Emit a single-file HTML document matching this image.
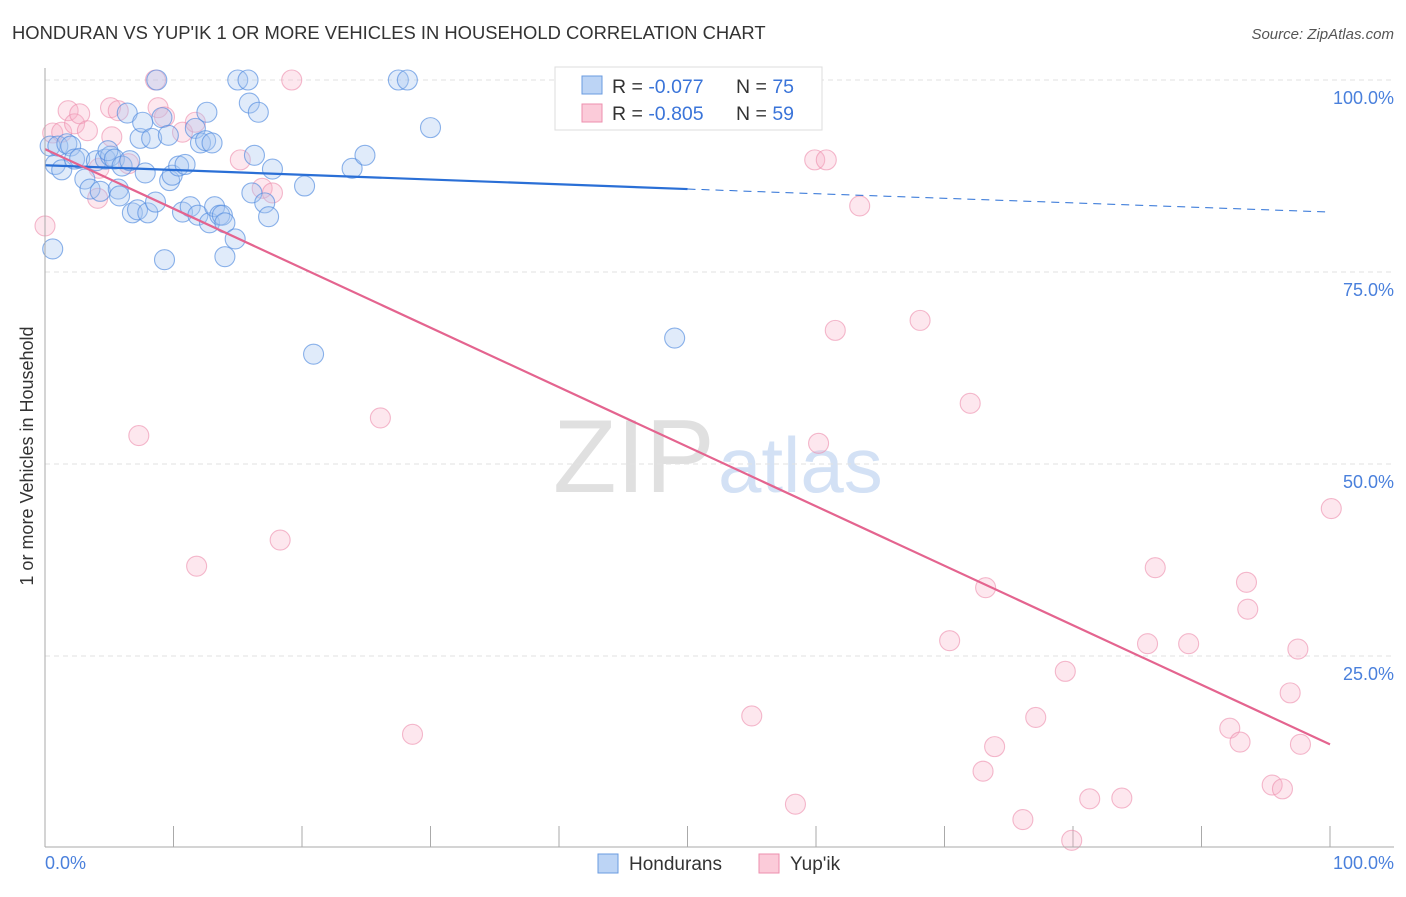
<!DOCTYPE html>
<html><head><meta charset="utf-8"><style>
body{margin:0;background:#fff;font-family:"Liberation Sans",sans-serif;}
svg text{font-family:"Liberation Sans",sans-serif;}
</style></head><body>
<svg width="1406" height="892">
<text x="12" y="39" font-size="18.4" fill="#333">HONDURAN VS YUP'IK 1 OR MORE VEHICLES IN HOUSEHOLD CORRELATION CHART</text>
<text x="1394" y="39" font-size="15" fill="#555" text-anchor="end" font-style="italic">Source: ZipAtlas.com</text>
<text x="33" y="456" font-size="18" fill="#333" text-anchor="middle" transform="rotate(-90 33 456)">1 or more Vehicles in Household</text>
<text x="553" y="492" font-size="104" fill="#e0e0e0" font-family="Liberation Serif">ZIP</text>
<text x="718" y="492" font-size="78" fill="#d3e1f5">atlas</text>
<g id="grid"></g><g id="pts"></g><g id="lines"></g>
<line x1="45" y1="68" x2="45" y2="847" stroke="#aaa"/>
<line x1="45" y1="847" x2="1394" y2="847" stroke="#aaa"/>
<text x="45" y="869" font-size="18" fill="#4a80dc">0.0%</text>
<text x="1394" y="869" font-size="18" fill="#4a80dc" text-anchor="end">100.0%</text>
<g>
<rect x="555" y="67" width="267" height="63" fill="#fff" stroke="#ddd"/>
<rect x="582" y="76" width="20" height="18" fill="#bcd4f5" stroke="#6a9be0"/>
<rect x="582" y="104" width="20" height="18" fill="#fbcbd9" stroke="#ee8fae"/>
<text x="612" y="93" font-size="19.5" fill="#333">R = <tspan fill="#3a74d9">-0.077</tspan></text>
<text x="736" y="93" font-size="19.5" fill="#333">N = <tspan fill="#3a74d9">75</tspan></text>
<text x="612" y="120" font-size="19.5" fill="#333">R = <tspan fill="#3a74d9">-0.805</tspan></text>
<text x="736" y="120" font-size="19.5" fill="#333">N = <tspan fill="#3a74d9">59</tspan></text>
</g>
<g><rect x="598" y="854" width="20" height="19" fill="#bcd4f5" stroke="#6a9be0"/><text x="629" y="870" font-size="19" fill="#333">Hondurans</text></g>
<g><rect x="759" y="854" width="20" height="19" fill="#fbcbd9" stroke="#ee8fae"/><text x="790" y="870" font-size="19" fill="#333">Yup'ik</text></g>
</svg>
<script>
const NS="http://www.w3.org/2000/svg";
const yTicks=[100,75,50,25];
const yTickLabels=["100.0%","75.0%","50.0%","25.0%"];
const xMinorTicks=[10,20,30,40,50,60,70,80,90,100];
const blueX=[0.6,0.8,0.4,1.3,1,1.7,2,2.3,2.7,3.1,3.5,4,4.3,4.7,5.1,4.9,5.4,5.7,5.8,6,6.4,6.6,6.8,7.2,7.4,7.6,7.8,8,8.3,8.6,8.7,9.1,9.3,9.6,9.7,9.9,10.4,10.7,10.9,11.3,11.7,11.9,12.1,12.5,12.6,12.8,13,13.2,13.6,13.8,14,14,14.8,15,15.8,15.9,16.1,16.3,16.6,17.1,17.4,17.7,20.2,20.9,23.9,24.9,27.5,28.2,30,49,40.5];
const blueY=[78,89,91.4,88.3,91.4,91.7,91.4,89.7,89.8,87.1,85.8,89.5,85.5,89.7,90.1,90.8,89.7,85.8,84.9,88.8,95.7,89.5,82.7,83.1,92.4,94.5,87.9,82.7,92.4,84.1,100,95.1,76.6,92.8,86.9,87.6,88.8,82.8,89,83.5,93.7,82.4,91.8,92.1,95.8,81.4,91.8,83.5,82.4,82.4,81.4,77,79.3,100,100,97,85.3,90.2,95.8,84,82.2,88.4,86.2,64.3,88.5,90.2,100,100,93.8,66.4,100.1];
const pinkX=[0,0.6,1.3,1.8,2.3,2.7,3.3,4.1,4.2,5.1,5.2,5.7,6.5,7.3,8.6,8.8,9.3,10.7,11.7,11.8,15.2,16.9,17.7,18.3,19.2,26.1,28.6,55,58.4,60.2,59.9,60.8,61.5,63.4,68.1,70.4,72,73,73.2,73.9,76.1,77.1,79.4,79.9,81.3,83.8,85.8,86.4,89,92.2,93,93.5,93.6,95.5,96.3,96.9,97.5,97.7,100.1];
const pinkY=[81,93.1,93.2,96,94.3,95.6,93.4,84.6,88.5,96.4,92.6,96,89.1,53.7,100,96.4,95.2,93.2,94.5,36.7,89.6,85.9,85.3,40.1,100,56,14.8,17.2,5.7,52.7,89.6,89.6,67.4,83.6,68.7,27,57.9,10,33.9,13.2,3.7,17,23,1,6.4,6.5,26.6,36.5,26.6,15.6,13.8,34.6,31.1,8.2,7.7,20.2,25.9,13.5,44.2];
const trendBlue=[88.9,85.8,82.8]; // at 0, 50, 100%
const trendPink=[91,13.5]; // at 0, 100%
const X=v=>45+v*12.85, Y=v=>848-v*7.68;
function mk(tag,attrs,parent){const e=document.createElementNS(NS,tag);for(const k in attrs)e.setAttribute(k,attrs[k]);parent.appendChild(e);return e;}
const grid=document.getElementById('grid');
yTicks.forEach((t,i)=>{
 const l=mk('line',{x1:45,x2:1394,y1:Y(t),y2:Y(t),stroke:'#e2e2e2','stroke-dasharray':'5,4'},grid);
 
 
 const tx=mk('text',{x:1394,y:Y(t)+24,'font-size':18,fill:'#4a80dc','text-anchor':'end'},grid);
 tx.textContent=yTickLabels[i];
 
 
});
xMinorTicks.forEach(t=>{
 const l=mk('line',{x1:X(t),x2:X(t),y1:826,y2:847,stroke:'#aaa'},grid);
 
 
});
const pts=document.getElementById('pts');
pinkX.forEach((x,i)=>{
 const c=mk('circle',{cx:X(x),cy:Y(pinkY[i]),r:10,fill:'rgba(248,175,198,0.3)',stroke:'rgba(236,140,172,0.6)','stroke-width':1.1},pts);
 
 
});
blueX.forEach((x,i)=>{
 const c=mk('circle',{cx:X(x),cy:Y(blueY[i]),r:10,fill:'rgba(165,198,240,0.35)',stroke:'rgba(80,138,222,0.65)','stroke-width':1.1},pts);
 
 
});
const ln=document.getElementById('lines');
const b1=mk('line',{x1:X(0),y1:Y(trendBlue[0]),x2:X(50),y2:Y(trendBlue[1]),stroke:'#2a6fd6','stroke-width':2.2},ln);


const b2=mk('line',{x1:X(50),y1:Y(trendBlue[1]),x2:X(100),y2:Y(trendBlue[2]),stroke:'#2a6fd6','stroke-width':1,'stroke-dasharray':'8,6'},ln);


const p1=mk('line',{x1:X(0),y1:Y(trendPink[0]),x2:X(100),y2:Y(trendPink[1]),stroke:'#e4648f','stroke-width':2.2},ln);


</script>
</body></html>
